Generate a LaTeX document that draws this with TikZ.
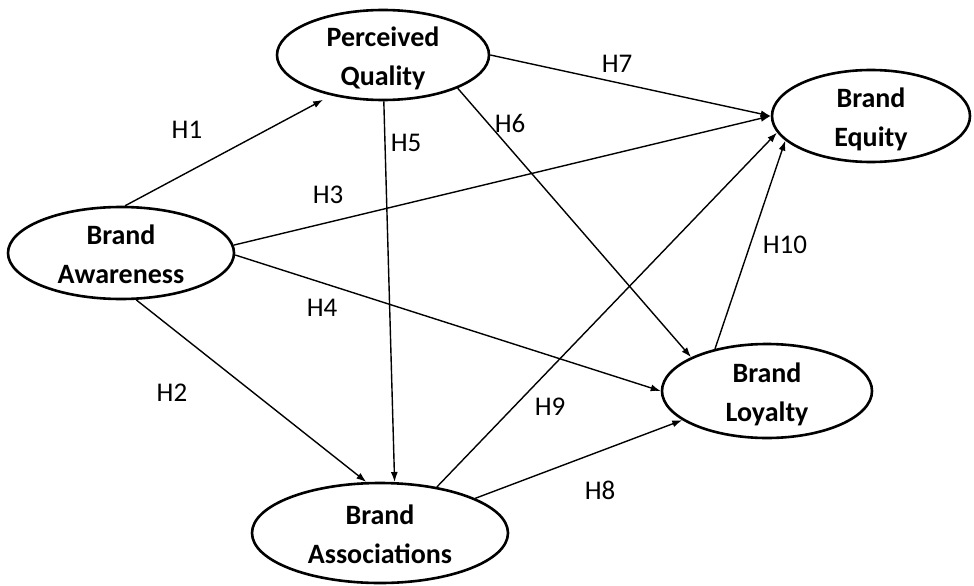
\documentclass[tikz,border=0pt]{standalone}
\usepackage{fontspec}
\setmainfont{Carlito}
\usetikzlibrary{shapes.geometric,arrows.meta}
\tikzset{
  construct/.style={ellipse, draw, line width=2.6pt, inner sep=0pt},
  ctext/.style={font=\fontsize{28}{39}\selectfont\bfseries, align=center, inner sep=0pt, anchor=base, yshift=-30pt},
  hyp/.style={font=\fontsize{27}{32}\selectfont, inner sep=0pt},
  path/.style={line width=1.4pt, -{Latex[length=10pt,width=7pt]}}
}
\begin{document}
\begin{tikzpicture}[x=1pt,y=-1pt]
\useasboundingbox (0,0) rectangle (974,586);
% constructs
\node[construct, minimum width=212pt, minimum height=90pt] (pq) at (383,55) {};
\node[construct, minimum width=198pt, minimum height=92pt] (be) at (871,116) {};
\node[construct, minimum width=226pt, minimum height=92pt] (baw) at (121,253) {};
\node[construct, minimum width=210pt, minimum height=94pt] (bl) at (767,391) {};
\node[construct, minimum width=256pt, minimum height=100pt] (bas) at (380,533) {};
\node[ctext] (tpq) at (pq.center) {Perceived\\Quality};
\node[ctext] (tbe) at (be.center) {Brand\\Equity};
\node[ctext] (tbaw) at (baw.center) {Brand\\Awareness};
\node[ctext] (tbl) at (bl.center) {Brand\\Loyalty};
\node[ctext] (tbas) at (bas.center) {Brand\\Associations};
% paths
\draw[path, shorten >=9pt] (baw.85) -- (pq.218);
\draw[path] (baw.288) -- (bas.105);
\draw[path] (baw.4) -- (be.180);
\draw[path] (baw.359) -- (bl.180);
\draw[path] (pq.271) -- (bas.74);
\draw[path] (pq.336) -- (bl.156);
\draw[path] (pq.0) -- (be.180);
\draw[path] (bas.20) -- (bl.199);
\draw[path] (bas.39) -- (be.190);
\draw[path] (bl.141) -- (be.196);
% labels
\node[hyp] (h1) at (187,130) {H1};
\node[hyp] (h2) at (172,393) {H2};
\node[hyp] (h3) at (328,195) {H3};
\node[hyp] (h4) at (322,308) {H4};
\node[hyp] (h5) at (406,143) {H5};
\node[hyp] (h6) at (510,123) {H6};
\node[hyp] (h7) at (617,64) {H7};
\node[hyp] (h8) at (600,490) {H8};
\node[hyp] (h9) at (550,407) {H9};
\node[hyp] (h10) at (785,245) {H10};
\end{tikzpicture}
\end{document}
